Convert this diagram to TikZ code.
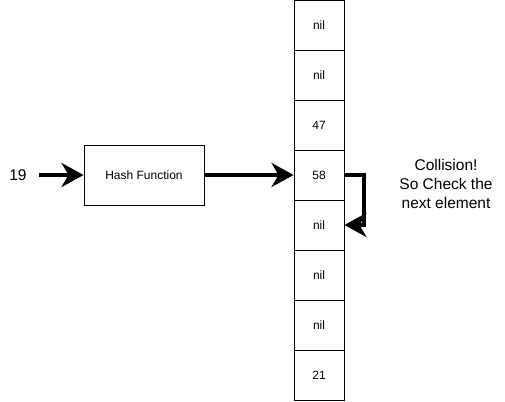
\documentclass[tikz,border=0pt]{standalone}
\usepackage{fontspec}
\setmainfont{Liberation Sans}
\usetikzlibrary{arrows.meta}
\tikzset{
  cell/.style={draw, line width=0.9pt, minimum width=50pt, minimum height=50pt, inner sep=0pt, font=\fontsize{12}{14}\selectfont},
  box/.style={draw, line width=0.9pt, minimum width=120pt, minimum height=60pt, inner sep=0pt, font=\fontsize{12}{14}\selectfont},
  big/.style={line width=4pt, line join=miter, -{Stealth[length=22pt,width=24pt,inset=7pt]}},
  label/.style={font=\fontsize{15.5}{19}\selectfont, align=center, inner sep=0pt}
}
\begin{document}
\begin{tikzpicture}[x=1pt,y=-1pt]
\useasboundingbox (0,0) rectangle (505,401);
\node[cell] (c1) at (319,25) {nil};
\node[cell] (c2) at (319,75) {nil};
\node[cell] (c3) at (319,125) {47};
\node[cell] (c4) at (319,175) {58};
\node[cell] (c5) at (319,225) {nil};
\node[cell] (c6) at (319,275) {nil};
\node[cell] (c7) at (319,325) {nil};
\node[cell] (c8) at (319,375) {21};
\node[box] (hash) at (144,175) {Hash Function};
\node[label] (n19) at (18,175) {19};
\node[label] (note) at (446,184) {Collision!\\So Check the\\next element};
\draw[big, shorten <=12pt] (n19.east) -- (hash.west);
\draw[big] (hash.east) -- (c4.west);
\draw[big] (c4.east) -- ++(20,0) |- (c5.east);
\end{tikzpicture}
\end{document}
